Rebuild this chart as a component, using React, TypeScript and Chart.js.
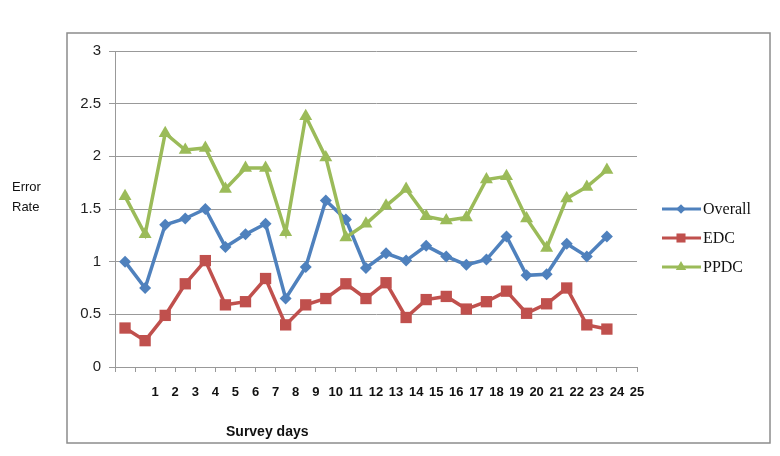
import React, { useEffect, useRef } from "react";
import { Chart, registerables } from "chart.js";

Chart.register(...registerables);

const tickLabels = ["1","2","3","4","5","6","7","8","9","10","11","12","13","14","15","16","17","18","19","20","21","22","23","24","25"];
const overall = [1.0, 0.75, 1.35, 1.41, 1.5, 1.14, 1.26, 1.36, 0.65, 0.95, 1.58, 1.4, 0.94, 1.08, 1.01, 1.15, 1.05, 0.97, 1.02, 1.24, 0.87, 0.88, 1.17, 1.05, 1.24];
const edc = [0.37, 0.25, 0.49, 0.79, 1.01, 0.59, 0.62, 0.84, 0.4, 0.59, 0.65, 0.79, 0.65, 0.8, 0.47, 0.64, 0.67, 0.55, 0.62, 0.72, 0.51, 0.6, 0.75, 0.4, 0.36];
const ppdc = [1.62, 1.26, 2.22, 2.06, 2.08, 1.69, 1.89, 1.89, 1.28, 2.38, 1.99, 1.23, 1.36, 1.53, 1.69, 1.43, 1.39, 1.42, 1.78, 1.81, 1.41, 1.13, 1.6, 1.71, 1.87];
const seriesNames = ["Overall", "EDC", "PPDC"];
const seriesColors = ["#4F81BD", "#C0504D", "#9BBB59"];
const seriesShapes = ["rectRot", "rect", "triangle"];
const seriesRadius = [6, 8, 7.5];

function drawMarker(ctx: CanvasRenderingContext2D, shape: string, x: number, y: number, r: number, color: string) {
  ctx.save();
  ctx.fillStyle = color;
  ctx.beginPath();
  if (shape === "rectRot") {
    ctx.moveTo(x, y - r);
    ctx.lineTo(x + r, y);
    ctx.lineTo(x, y + r);
    ctx.lineTo(x - r, y);
  } else if (shape === "rect") {
    const s = r * Math.SQRT1_2;
    ctx.rect(x - s, y - s, 2 * s, 2 * s);
  } else {
    const h = r * Math.sqrt(3) / 2;
    ctx.moveTo(x, y - r);
    ctx.lineTo(x + h, y + r / 2);
    ctx.lineTo(x - h, y + r / 2);
  }
  ctx.closePath();
  ctx.fill();
  ctx.restore();
}

const decorPlugin = {
  id: "decor",
  afterDraw(chart: any) {
    const ctx = chart.ctx as CanvasRenderingContext2D;
    ctx.save();
    ctx.strokeStyle = "#8c8c8c";
    ctx.lineWidth = 1.5;
    ctx.strokeRect(67, 33, 703, 410);
    ctx.fillStyle = "#111";
    ctx.font = "13px 'Liberation Sans', Arial, sans-serif";
    ctx.textAlign = "left";
    ctx.textBaseline = "middle";
    ctx.fillText("Error", 12, 187);
    ctx.fillText("Rate", 12, 207);
    ctx.font = "bold 14px 'Liberation Sans', Arial, sans-serif";
    ctx.fillText("Survey days", 226, 432);
    const ys = [209, 238, 267];
    ctx.font = "16px 'Liberation Serif', 'DejaVu Serif', serif";
    for (let i = 0; i < 3; i++) {
      ctx.strokeStyle = seriesColors[i];
      ctx.lineWidth = 3;
      ctx.beginPath();
      ctx.moveTo(662, ys[i]);
      ctx.lineTo(701, ys[i]);
      ctx.stroke();
      drawMarker(ctx, seriesShapes[i], 681, ys[i], seriesRadius[i] * 0.8, seriesColors[i]);
      ctx.fillStyle = "#111";
      ctx.fillText(seriesNames[i], 703, ys[i] + 1);
    }
    ctx.restore();
  },
};

export default function App() {
  const ref = useRef<HTMLCanvasElement | null>(null);
  useEffect(() => {
    document.body.style.margin = "0";
    const slots = [...overall.map((_, i) => String(i + 1)), ""];
    const mk = (i: number, data: number[]) => ({
      label: seriesNames[i],
      data,
      borderColor: seriesColors[i],
      backgroundColor: seriesColors[i],
      borderWidth: 3.5,
      pointStyle: seriesShapes[i],
      pointRadius: seriesRadius[i],
      pointBorderWidth: 0,
      pointBackgroundColor: seriesColors[i],
      tension: 0,
      xAxisID: "x",
      yAxisID: "y",
    });
    const chart = new Chart(ref.current as HTMLCanvasElement, {
      type: "line",
      data: {
        labels: slots,
        datasets: [mk(2, ppdc), mk(1, edc), mk(0, overall)],
      },
      options: {
        animation: false,
        responsive: false,
        maintainAspectRatio: false,
        layout: { padding: { left: 0, right: 143, top: 51, bottom: 0 } },
        plugins: { legend: { display: false }, tooltip: { enabled: false } },
        scales: {
          x: { type: "category", display: false, offset: true },
          xt: {
            type: "linear",
            position: "bottom",
            min: 0,
            max: 26,
            afterFit(scale: any) { scale.height = 89; },
            border: { color: "#999", width: 1 },
            grid: { drawOnChartArea: false, drawTicks: true, tickLength: 5, color: "#999" },
            ticks: {
              stepSize: 1,
              autoSkip: false,
              maxRotation: 0,
              padding: 13,
              color: "#111",
              font: { family: "'Liberation Sans', Arial, sans-serif", size: 13, weight: "bold" },
              callback: (v: any) => (v >= 2 && v <= 26 ? tickLabels[v - 2] : ""),
            },
          },
          y: {
            min: 0,
            max: 3,
            afterFit(scale: any) { scale.width = 115; },
            border: { color: "#999", width: 1 },
            grid: { color: "#999", lineWidth: 1, tickLength: 6 },
            ticks: {
              stepSize: 0.5,
              padding: 8,
              color: "#222",
              font: { family: "'Liberation Sans', Arial, sans-serif", size: 15 },
              callback: (v: any) => String(Number(v)),
            },
          },
        },
      },
      plugins: [decorPlugin],
    } as any);
    return () => chart.destroy();
  }, []);
  return (
    <div style={{ width: 780, height: 456, background: "#fff" }}>
      <canvas ref={ref} width={780} height={456} />
    </div>
  );
}
